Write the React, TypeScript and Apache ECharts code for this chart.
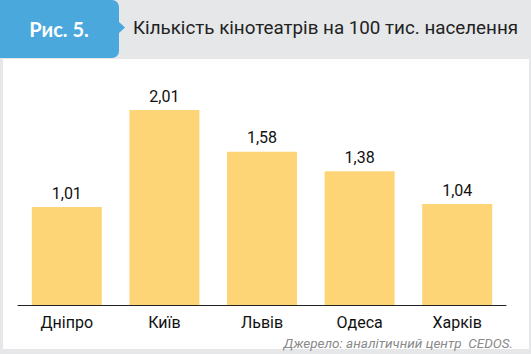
import React, { useEffect, useRef } from "react";
import * as echarts from "echarts";

const categories = ["Дніпро", "Київ", "Львів", "Одеса", "Харків"];
const values = [1.01, 2.01, 1.58, 1.38, 1.04];
const figLabel = "Рис. 5.";
const title = "Кількість кінотеатрів на 100 тис. населення";
const source = "Джерело: аналітичний центр  CEDOS.";

export default function App() {
  const ref = useRef<HTMLDivElement>(null);
  useEffect(() => {
    document.body.style.margin = "0";
    const chart = echarts.init(ref.current!, null, { renderer: "svg" });
    chart.setOption({
      animation: false,
      backgroundColor: "#e6e7e9",
      grid: { left: 18, right: 25, top: 62.5, bottom: 49 },
      xAxis: {
        type: "category",
        data: categories,
        axisLine: { lineStyle: { color: "#222", width: 1 } },
        axisTick: { inside: true, length: 4, lineStyle: { color: "#222" } },
        axisLabel: { color: "#111", fontSize: 16, fontFamily: "Roboto", margin: 9 },
      },
      yAxis: {
        type: "value",
        min: 0,
        max: 2.5,
        show: false,
        splitLine: { show: false },
      },
      graphic: [
        { type: "rect", z: -1, shape: { x: 3, y: 59, width: 526, height: 290 }, style: { fill: "#ffffff" } },
        { type: "rect", shape: { x: 0, y: 0, width: 119, height: 58, r: [0, 7, 7, 0] }, style: { fill: "#4aa8dd" } },
        { type: "polygon", shape: { points: [[118, 21], [125, 27.5], [118, 34]] }, style: { fill: "#4aa8dd" } },
        {
          type: "text",
          x: 59,
          y: 29,
          style: { text: figLabel, fill: "#ffffff", font: "bold 20px Lato", align: "center", verticalAlign: "middle" },
        },
        {
          type: "text",
          x: 133,
          y: 28,
          style: { text: title, fill: "#222", font: "18.8px Roboto", align: "left", verticalAlign: "middle" },
        },
        {
          type: "text",
          x: 513,
          y: 343,
          style: { text: source, fill: "#8a8a8a", font: "italic 13.5px Roboto", align: "right", verticalAlign: "middle" },
        },
      ],
      series: [
        {
          type: "bar",
          data: values,
          barWidth: 70,
          itemStyle: { color: "#fdd576" },
          label: {
            show: true,
            position: "top",
            distance: 6,
            color: "#111",
            fontSize: 16,
            fontFamily: "Roboto",
            formatter: (p: any) => p.value.toFixed(2).replace(".", ","),
          },
        },
      ],
    });
    return () => chart.dispose();
  }, []);
  return <div ref={ref} style={{ width: 531, height: 354 }} />;
}
